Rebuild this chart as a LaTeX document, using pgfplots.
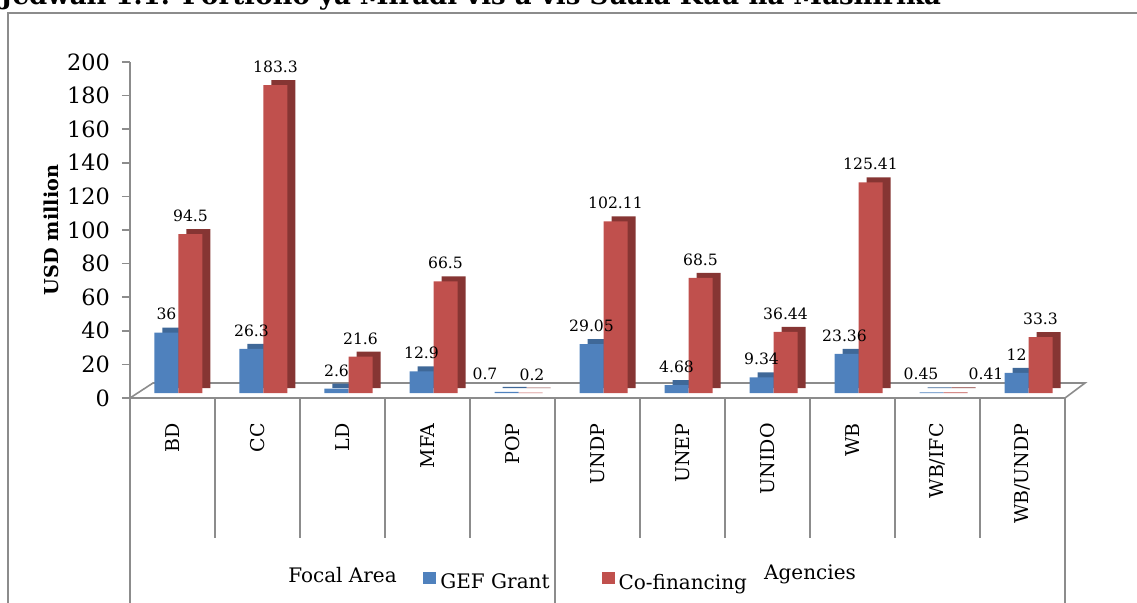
\documentclass[border=0pt]{standalone}
\usepackage{pgfplots}
\pgfplotsset{compat=1.18}
\usepackage{pgfplotstable}
\usetikzlibrary{calc}
\usepackage{fontspec}
\setmainfont{DejaVu Serif}
\definecolor{gblue}{HTML}{4F81BD}
\definecolor{gred}{HTML}{C0504D}
\definecolor{gbluedark}{HTML}{3F6898}
\definecolor{greddark}{HTML}{863533}
\definecolor{lgray}{HTML}{8C8C8C}

% lab: label text; a \kern after the number moves its label left, before it moves it right
\pgfplotstableread{
x y lab
172.5 36 36
257.5 26.3 26.3
342.5 2.6 2.6
427.5 12.9 12.9
512.5 0.7 0.7\kern21.5pt
597.5 29.05 29.05
682.5 4.68 4.68
767.5 9.34 9.34
852.5 23.36 23.36\kern2pt
937.5 0.45 0.45\kern10.5pt
1022.5 12 12
}\gef

\pgfplotstableread{
x y lab
172.5 94.5 94.5
257.5 183.3 183.3
342.5 21.6 21.6
427.5 66.5 66.5
512.5 0.2 \kern1.5pt0.2
597.5 102.11 102.11
682.5 68.5 68.5
767.5 36.44 36.44
852.5 125.41 125.41
937.5 0.41 \kern30.5pt0.41
1022.5 33.3 33.3
}\cof

\begin{document}
\begin{tikzpicture}
\useasboundingbox (0,0) rectangle (568.5pt,301pt);
\node[anchor=base west, inner sep=0pt, font=\bfseries\fontsize{13pt}{15pt}\selectfont] at (0pt,299pt) {Jedwali 1.1: Portfolio ya Miradi vis a vis Suala Kuu na Mashirika};
\draw[lgray, line width=1pt] (4pt,-10pt) -- (4pt,294.75pt) -- (600pt,294.75pt);
\begin{axis}[
  at={(65pt,102pt)}, anchor=south west,
  scale only axis, width=467.5pt, height=168pt,
  xmin=130, xmax=1065, ymin=0, ymax=200,
  clip=false,
  axis lines*=left,
  x axis line style={draw=none},
  y axis line style={draw=lgray, line width=0.8pt},
  xtick={172.5,257.5,342.5,427.5,512.5,597.5,682.5,767.5,852.5,937.5,1022.5},
  xticklabels={BD,CC,LD,MFA,POP,UNDP,UNEP,UNIDO,WB,WB/IFC,WB/UNDP},
  xtick style={draw=none},
  xticklabel shift=8.5pt,
  xticklabel style={rotate=90, anchor=east, font=\fontsize{9.5pt}{11pt}\selectfont, inner sep=0pt},
  ytick={0,20,...,200},
  ytick style={draw=lgray, line width=0.8pt},
  tick align=outside, major tick length=4pt,
  yticklabel style={font=\fontsize{11.2pt}{13pt}\selectfont, xshift=-2.5pt},
  /pgf/number format/assume math mode=true,
  ylabel={USD million},
  every axis y label/.style={at={(axis description cs:-0.0845,0.5)}, rotate=90, anchor=center, font=\bfseries\fontsize{9.6pt}{12pt}\selectfont},
  legend columns=2,
  legend style={at={(axis description cs:0.489,-0.5506)}, anchor=center, draw=none, fill=none,
    font=\fontsize{10pt}{12pt}\selectfont,
    /tikz/every even column/.append style={column sep=24pt}},
  legend image code/.code={\fill[#1,/tikz/.cd,draw=none] (0pt,-3.2pt) rectangle (6.5pt,3.2pt);},
  every node near coord/.append style={font=\fontsize{7.8pt}{9pt}\selectfont, anchor=south, inner sep=0pt, yshift=6pt},
]
% floor
\draw[lgray, line width=0.8pt] (axis cs:130,0) -- ($(axis cs:130,0)+(11.5pt,7.5pt)$) -- ($(axis cs:1065,0)+(10pt,7.5pt)$) -- (axis cs:1065,0) -- cycle;
% dividers
\draw[lgray, line width=0.8pt] (axis cs:130,0) -- ++(0pt,-110pt);
\draw[lgray, line width=0.8pt] (axis cs:555,0) -- ++(0pt,-110pt);
\draw[lgray, line width=0.8pt] (axis cs:1065,0) -- ++(0pt,-110pt);
\draw[lgray, line width=0.8pt] (axis cs:215,0) -- ++(0pt,-70pt);
\draw[lgray, line width=0.8pt] (axis cs:300,0) -- ++(0pt,-70pt);
\draw[lgray, line width=0.8pt] (axis cs:385,0) -- ++(0pt,-70pt);
\draw[lgray, line width=0.8pt] (axis cs:470,0) -- ++(0pt,-70pt);
\draw[lgray, line width=0.8pt] (axis cs:640,0) -- ++(0pt,-70pt);
\draw[lgray, line width=0.8pt] (axis cs:725,0) -- ++(0pt,-70pt);
\draw[lgray, line width=0.8pt] (axis cs:810,0) -- ++(0pt,-70pt);
\draw[lgray, line width=0.8pt] (axis cs:895,0) -- ++(0pt,-70pt);
\draw[lgray, line width=0.8pt] (axis cs:980,0) -- ++(0pt,-70pt);
% shadows (top and side faces)
\addplot[ybar, bar width=12pt, bar shift=-3pt, fill=gbluedark, draw=none, xshift=4pt, yshift=5pt, forget plot] table[x=x,y=y]{\gef};
\addplot[ybar, bar width=12pt, bar shift=9pt, fill=greddark, draw=none, xshift=4pt, yshift=5pt, forget plot] table[x=x,y=y]{\cof};
% fronts
\addplot[ybar, bar width=12pt, bar shift=-3pt, fill=gblue, draw=none, yshift=2.5pt,
  nodes near coords, point meta=explicit symbolic,
  every node near coord/.append style={xshift=-3pt}] table[x=x,y=y,meta=lab]{\gef};
\addplot[ybar, bar width=12pt, bar shift=9pt, fill=gred, draw=none, yshift=2.5pt,
  nodes near coords, point meta=explicit symbolic,
  every node near coord/.append style={xshift=9pt}] table[x=x,y=y,meta=lab]{\cof};
\legend{GEF Grant, Co-financing}
\node[font=\fontsize{10pt}{12pt}\selectfont] at (axis description cs:0.2273,-0.5268) {Focal Area};
\node[font=\fontsize{10pt}{12pt}\selectfont] at (axis description cs:0.7273,-0.5238) {Agencies};
\end{axis}
\end{tikzpicture}
\end{document}
